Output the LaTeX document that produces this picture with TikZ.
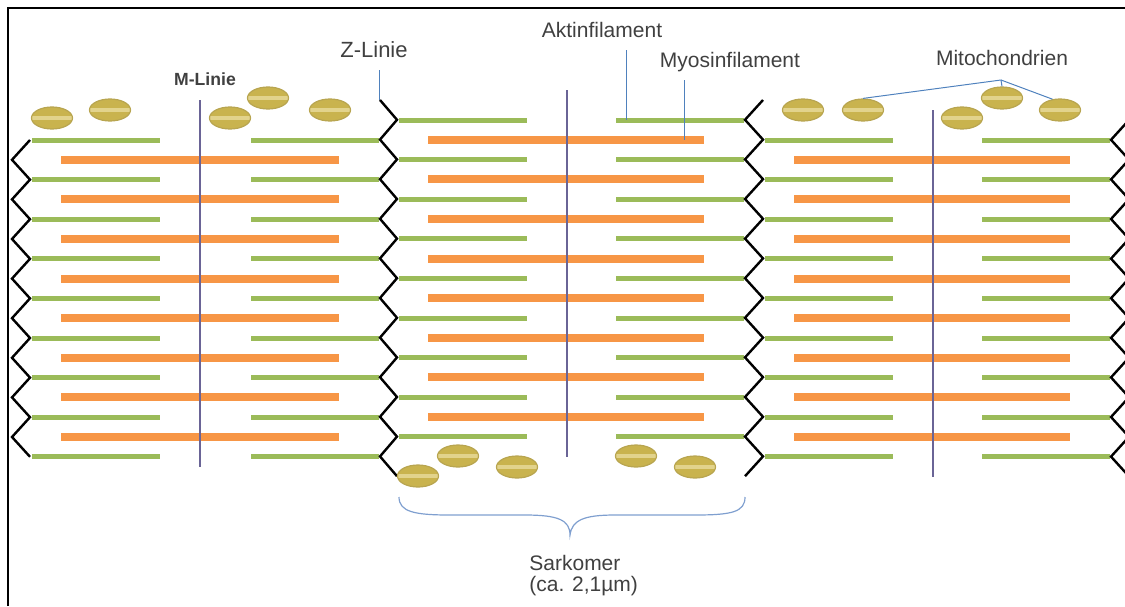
\documentclass[tikz,border=0pt]{standalone}
\usepackage{fontspec}
\setmainfont{Liberation Sans}
\usetikzlibrary{shapes.geometric}

\definecolor{aktin}{HTML}{9BBB59}
\definecolor{myosin}{HTML}{F79646}
\definecolor{mline}{HTML}{6A6496}
\definecolor{zeigerblau}{HTML}{4F81BD}
\definecolor{klammer}{HTML}{7F9FCF}
\definecolor{mitofill}{HTML}{C9B34E}
\definecolor{mitoedge}{HTML}{B8A550}
\definecolor{mitostripe}{HTML}{E2D38C}
\definecolor{labeltext}{HTML}{404040}

\tikzset{
  aktinfil/.style={line width=2.5pt, draw=aktin,
    preaction={draw=black!20, transform canvas={yshift=-0.7pt}}},
  myosinfil/.style={line width=4pt, draw=myosin,
    preaction={draw=black!12, transform canvas={yshift=-0.8pt}}},
  zlinie/.style={line width=1.2pt, line join=miter},
  mlinie/.style={line width=0.75pt, draw=mline},
  zeiger/.style={line width=0.5pt, draw=zeigerblau},
  mito/.style={ellipse, minimum width=20.5pt, minimum height=11pt, inner sep=0pt,
    fill=mitofill, draw=mitoedge, line width=0.6pt,
    path picture={\draw[mitostripe, line width=2pt]
      (path picture bounding box.west) -- (path picture bounding box.east);}},
  lbl/.style={text=labeltext, font=\fontsize{10.5}{12}\selectfont, inner sep=0pt},
}

\begin{document}
\begin{tikzpicture}[x=0.5pt, y=-0.5pt]
  \useasboundingbox (0,0) rectangle (1125,606);
  \clip (0,0) rectangle (1125,606);
  \draw[line width=1.1pt] (8,606) -- (8,8) -- (1125,8);

  % filaments: left Z, right Z, M-line, first actin row, M-line top/bottom
  \foreach \zl/\zr/\m/\top/\mtop/\mbot in
      {30/380/200/140/100/467, 397/745/567/120/90/457, 763/1111/933/140/110/477} {
    \foreach \i in {0,...,8} {
      \draw[aktinfil] (\zl+2,\top+39.6*\i) -- (\zl+130,\top+39.6*\i);
      \draw[aktinfil] (\zr-129,\top+39.6*\i) -- (\zr-1,\top+39.6*\i);
    }
    \foreach \i in {0,...,7}
      \draw[myosinfil] (\zl+31,\top+19.8+39.6*\i) -- (\zr-41,\top+19.8+39.6*\i);
    \draw[mlinie] (\m,\mtop) -- (\m,\mbot);
  }

  % Z-lines
  \draw[zlinie] (30,140) \foreach \i in {1,...,16} {-- ({30-18*mod(\i,2)},{140+19.8*\i})};
  \draw[zlinie] (380,100) \foreach \i in {1,...,19} {-- ({380+17*mod(\i,2)},{100+19.8*\i})};
  \draw[zlinie] (763,100) \foreach \i in {1,...,19} {-- ({763-18*mod(\i,2)},{100+19.8*\i})};
  \draw[zlinie] (1129,120) \foreach \i in {1,...,18} {-- ({1129-18*mod(\i,2)},{120+19.8*\i})};

  % mitochondria
  \foreach \p [count=\i] in {(52,118), (110,110), (230,118), (268,98), (330,110),
      (418,476), (458,456), (517,467), (636,456), (695,467),
      (803,110), (863,110), (962,118), (1002,98), (1060,110)}
    \node[mito] (m\i) at \p {};

  % labels
  \node[lbl, font=\fontsize{11}{13}\selectfont, anchor=base] (zlab) at (374,57) {Z-Linie};
  \node[lbl, font=\bfseries\fontsize{8.8}{10}\selectfont, anchor=base] (mlab) at (205,85) {M-Linie};
  \node[lbl, anchor=base] (aktlab) at (602,37) {Aktinfilament};
  \node[lbl, anchor=base] (myolab) at (730,67) {Myosinfilament};
  \node[lbl, anchor=base] (mitolab) at (1002,65) {Mitochondrien};
  \node[lbl, anchor=base west] (sark) at (529,570) {Sarkomer};
  \node[lbl, anchor=base west] (sarklen) at (529,591) {(ca. 2,1µm)};

  \coordinate (zFrom) at (379,70);
  \coordinate (zTo) at (379,100);
  \coordinate (aktFrom) at (626,50);
  \coordinate (aktTo) at (626,120);
  \coordinate (myoFrom) at (684,80);
  \coordinate (myoTo) at (684,140);
  \coordinate (mitoHub) at (1001,80);

  \draw[zeiger] (zFrom) -- (zTo);
  \draw[zeiger] (aktFrom) -- (aktTo);
  \draw[zeiger] (myoFrom) -- (myoTo);
  \draw[zeiger] (m12.north) -- (mitoHub) -- (m15.125);
  \draw[zeiger] (mitoHub) -- (m14.north);

  % brace under the middle sarcomere
  \coordinate (braceL) at (399,497);
  \coordinate (braceR) at (745,497);
  \coordinate (braceTip) at (570,535);
  \draw[klammer, line width=0.6pt] (braceL) .. controls (399,512) and (415,515) .. (450,515)
    -- (525,515) .. controls (558,515) and (570,520) .. (braceTip)
    .. controls (572,520) and (584,515) .. (615,515)
    -- (695,515) .. controls (732,515) and (745,512) .. (braceR);
\end{tikzpicture}
\end{document}
